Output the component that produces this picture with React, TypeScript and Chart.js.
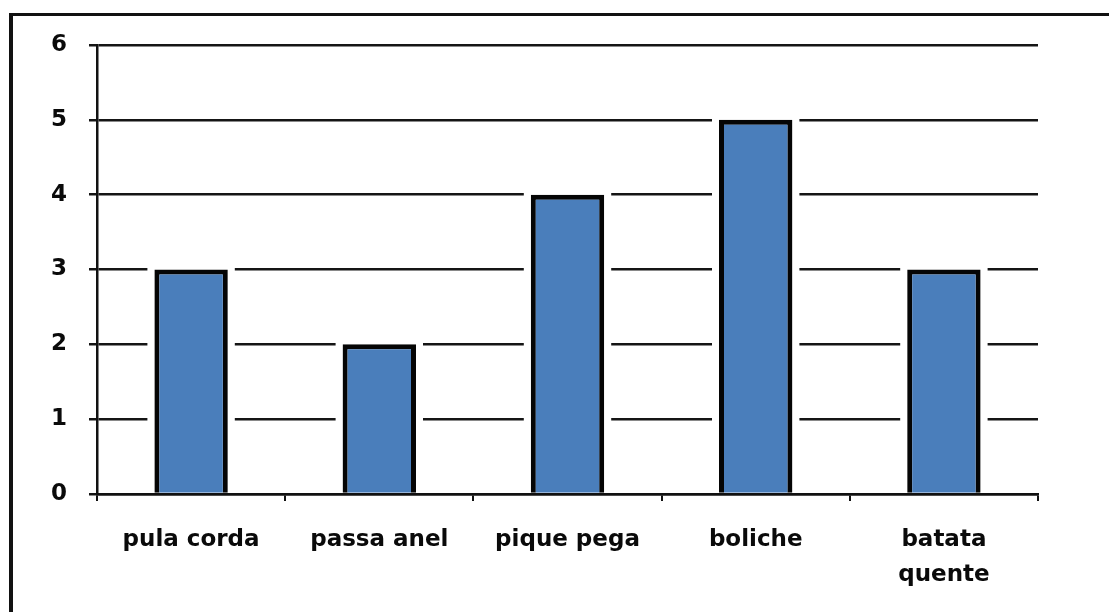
import React, { useEffect, useRef } from "react";
import { Chart, registerables } from "chart.js";

Chart.register(...registerables);

const categories: (string | string[])[] = ["pula corda", "passa anel", "pique pega", "boliche", ["batata", "quente"]];
const values: number[] = [3, 2, 4, 5, 3];
const yTicks: number[] = [0, 1, 2, 3, 4, 5, 6];

const barGapPlugin = {
  id: "barGap",
  beforeDatasetsDraw(chart: any) {
    const ctx = chart.ctx;
    const meta = chart.getDatasetMeta(0);
    ctx.save();
    ctx.fillStyle = "#ffffff";
    meta.data.forEach((el: any) => {
      const p = el.getProps(["x", "y", "base", "width"], true);
      const pad = 7;
      ctx.fillRect(p.x - p.width / 2 - pad, p.y - 2, p.width + pad * 2, p.base - p.y - 1);
    });
    ctx.restore();
  },
};

export default function App() {
  const ref = useRef<HTMLCanvasElement>(null);
  useEffect(() => {
    if (!ref.current) return;
    const chart = new Chart(ref.current, {
      type: "bar",
      data: {
        labels: categories,
        datasets: [
          {
            data: values,
            backgroundColor: "#4A7EBB",
            borderColor: "#050505",
            borderWidth: 5,
            barPercentage: 0.39,
            categoryPercentage: 1,
          },
        ],
      },
      plugins: [barGapPlugin],
      options: {
        animation: false,
        responsive: false,
        maintainAspectRatio: false,
        layout: { padding: { left: 0, right: 71, top: 45, bottom: 0 } },
        plugins: { legend: { display: false }, tooltip: { enabled: false } },
        scales: {
          x: {
            offset: true,
            grid: {
              offset: true,
              drawOnChartArea: false,
              drawTicks: true,
              tickLength: 7,
              color: "#111",
              lineWidth: 2,
            },
            border: { display: true, color: "#111", width: 2.5 },
            ticks: {
              color: "#0a0a0a",
              padding: 22,
              font: { family: "DejaVu Sans", weight: "bold", size: 23, lineHeight: 1.5 },
              maxRotation: 0,
              autoSkip: false,
            },
            afterFit: (s: any) => {
              s.height = 612 - 494;
            },
          },
          y: {
            min: 0,
            max: 6,
            afterBuildTicks: (s: any) => {
              s.ticks = yTicks.map((v) => ({ value: v }));
            },
            grid: {
              color: "#151515",
              lineWidth: 2.5,
              tickLength: 8,
              drawTicks: true,
            },
            border: { display: true, color: "#111", width: 2.5 },
            ticks: {
              color: "#0a0a0a",
              padding: 22,
              font: { family: "DejaVu Sans", weight: "bold", size: 23 },
            },
            afterFit: (s: any) => {
              s.width = 97;
            },
          },
        },
      },
    });
    return () => chart.destroy();
  }, []);

  return (
    <div style={{ position: "fixed", left: 0, top: 0, width: 1109, height: 612, background: "#fff", overflow: "hidden" }}>
      <div
        style={{
          position: "absolute",
          left: 9,
          top: 13,
          width: 1200,
          height: 700,
          borderLeft: "4px solid #111",
          borderTop: "3px solid #111",
        }}
      />
      <canvas ref={ref} width={1109} height={612} style={{ position: "absolute", left: 0, top: 0 }} />
    </div>
  );
}
